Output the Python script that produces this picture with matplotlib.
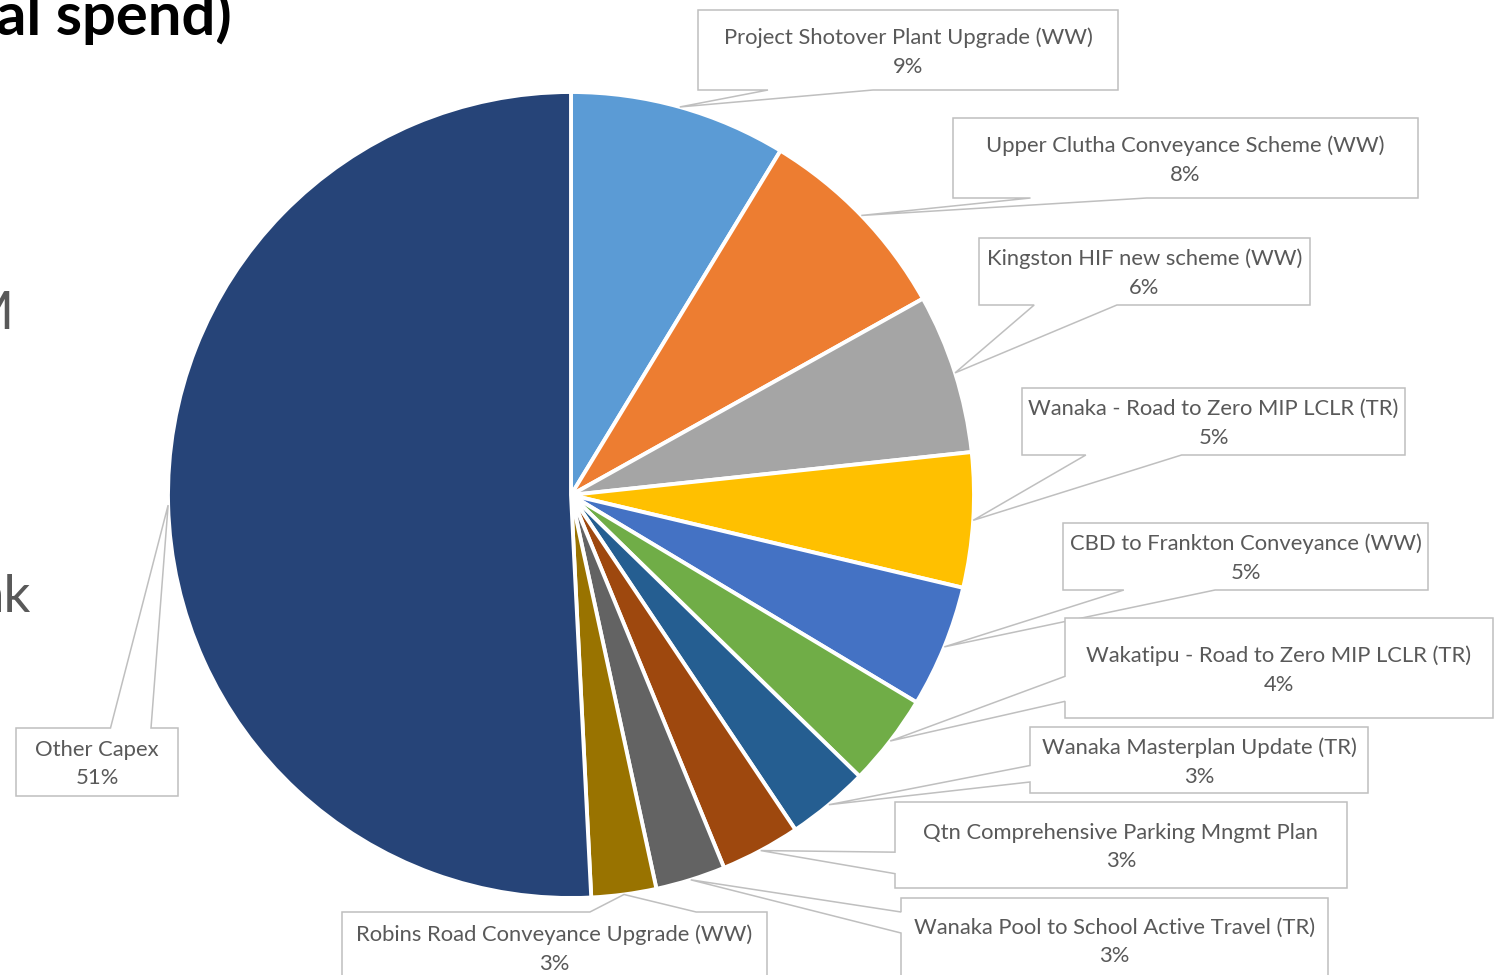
import matplotlib
matplotlib.use("Agg")
import matplotlib.pyplot as plt
from matplotlib.patches import Polygon
import numpy as np

W, H = 1496, 975          # canvas in pixels (dpi 100)
CX, CY, R = 571, 495, 403  # pie centre / radius, pixel coords (y down)

# ── data ──────────────────────────────────────────────────────────────────────
labels = [
    "Project Shotover Plant Upgrade (WW)",
    "Upper Clutha Conveyance Scheme (WW)",
    "Kingston HIF new scheme (WW)",
    "Wanaka - Road to Zero MIP LCLR (TR)",
    "CBD to Frankton Conveyance (WW)",
    "Wakatipu - Road to Zero MIP LCLR (TR)",
    "Wanaka Masterplan Update (TR)",
    "Qtn Comprehensive Parking Mngmt Plan",
    "Wanaka Pool to School Active Travel (TR)",
    "Robins Road Conveyance Upgrade (WW)",
    "Other Capex",
]
shares = [8.7, 8.2, 6.4, 5.4, 4.9, 3.7, 3.3, 3.2, 2.8, 2.6, 50.8]
colors = ["#5B9BD5", "#ED7D31", "#A5A5A5", "#FFC000", "#4472C4", "#70AD47",
          "#255E91", "#9E480E", "#636363", "#997300", "#264478"]

# callout boxes: x0, y0, x1, y1 (pixels, y down), side of pointer, base position
boxes = [
    (698, 10, 1118, 90, "bottom", "near"),
    (953, 118, 1418, 198, "bottom", "near"),
    (979, 238, 1310, 305, "bottom", "near"),
    (1022, 388, 1405, 455, "bottom", "near"),
    (1063, 523, 1428, 590, "bottom", "near"),
    (1065, 618, 1493, 718, "left", "far"),
    (1030, 727, 1368, 793, "left", "far"),
    (895, 802, 1347, 888, "left", "far"),
    (901, 898, 1328, 982, "left", "near"),
    (342, 912, 767, 983, "top", "far"),
    (16, 728, 178, 796, "top", "far"),
]

FONT = "Lato"
TXT = "#595959"
EDGE = "#BFBFBF"


def callout(x0, y0, x1, y1, side, pos, tip):
    f1, f2 = (1 / 6, 5 / 12) if pos == "near" else (7 / 12, 5 / 6)
    w, h = x1 - x0, y1 - y0
    pts = [(x0, y0)]
    if side == "top":
        pts += [(x0 + f1 * w, y0), tip, (x0 + f2 * w, y0)]
    pts += [(x1, y0), (x1, y1)]
    if side == "bottom":
        pts += [(x0 + f2 * w, y1), tip, (x0 + f1 * w, y1)]
    pts += [(x0, y1)]
    if side == "left":
        pts += [(x0, y0 + f2 * h), tip, (x0, y0 + f1 * h)]
    return [(px, H - py) for px, py in pts]


fig = plt.figure(figsize=(W / 100, H / 100), dpi=100)
ax = fig.add_axes([0, 0, 1, 1])

wedges, _ = ax.pie(shares, colors=colors, startangle=90, counterclock=False,
                   center=(CX, H - CY), radius=R,
                   wedgeprops=dict(edgecolor="white", linewidth=2.8))

for wdg, lab, val, box in zip(wedges, labels, shares, boxes):
    mid = np.deg2rad((wdg.theta1 + wdg.theta2) / 2)
    tip = (CX + R * np.cos(mid), CY - R * np.sin(mid))
    x0, y0, x1, y1, side, pos = box
    ax.add_patch(Polygon(callout(x0, y0, x1, y1, side, pos, tip), closed=True,
                         facecolor="white", edgecolor=EDGE, linewidth=1.1, zorder=3))
    ax.text((x0 + x1) / 2, H - (y0 + y1) / 2 - 2, f"{lab}\n{val:.0f}%",
            ha="center", va="center", fontsize=15.8, family=FONT, color=TXT,
            linespacing=1.55, zorder=4)

# fragments of the slide around the chart
ax.text(-4, H - 35, "al spend)", fontsize=43, fontweight="bold", family=FONT,
        color="black", ha="left", va="baseline")
ax.text(13, H - 329, "M", fontsize=38, family=FONT, color=TXT, ha="right", va="baseline")
ax.text(31, H - 612, "nk", fontsize=38, family=FONT, color=TXT, ha="right", va="baseline")

ax.set_xlim(0, W)
ax.set_ylim(0, H)
ax.set_aspect("equal")
ax.axis("off")

fig.savefig("out.png", dpi=100, facecolor="white")
